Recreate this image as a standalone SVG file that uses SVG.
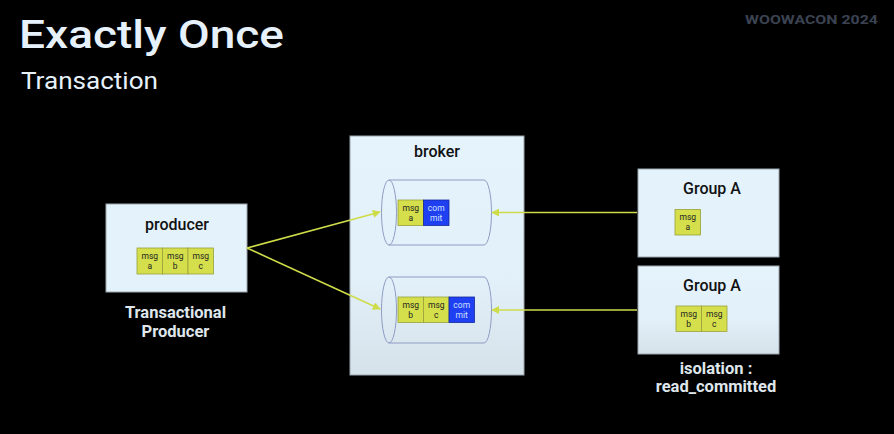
<svg xmlns="http://www.w3.org/2000/svg" width="894" height="434" viewBox="0 0 894 434">
<style>
.bg{fill:#000}
.box{fill:#e3f2fb;stroke:#9aa6ae;stroke-width:1}
.lbl{font-family:Roboto,"Liberation Sans",sans-serif;font-weight:500;font-size:16px;fill:#111;text-anchor:middle}
.cap{font-family:Roboto,"Liberation Sans",sans-serif;font-weight:700;font-size:16.5px;fill:#dfe6ec;text-anchor:middle}
.msg{fill:#d5df4c;stroke:#9aa13a;stroke-width:0.8}
.com{fill:#1f3ff2;stroke:#14289a;stroke-width:0.8}
.mt{font-family:Roboto,"Liberation Sans",sans-serif;font-size:8.5px;fill:#222;text-anchor:middle}
.ct{font-family:Roboto,"Liberation Sans",sans-serif;font-size:8.5px;fill:#cfe0ff;text-anchor:middle}
.cyl{fill:none;stroke:#8e9cc4;stroke-width:1}
.con{stroke:#cfdc4a;stroke-width:1.6;fill:none;marker-end:url(#ah)}
</style>
<defs>
<linearGradient id="bgr" x1="0" y1="0" x2="0" y2="1">
<stop offset="0" stop-color="#e5f3fc"/>
<stop offset="0.6" stop-color="#e2f0f9"/>
<stop offset="1" stop-color="#d6e2ea"/>
</linearGradient>
<marker id="ah" viewBox="0 0 10 10" refX="9" refY="5" markerWidth="5" markerHeight="5" orient="auto" markerUnits="strokeWidth">
<path d="M0,0 L10,5 L0,10 z" fill="#cfdc4a"/>
</marker>
</defs>
<rect class="bg" x="0" y="0" width="894" height="434"/>
<text x="19" y="48" font-family="Roboto,'Liberation Sans',sans-serif" font-weight="500" font-size="39" fill="#e6f1fb" textLength="265" lengthAdjust="spacingAndGlyphs">Exactly Once</text>
<text x="21" y="89" font-family="Roboto,'Liberation Sans',sans-serif" font-size="23.5" fill="#e6f1fb" textLength="137" lengthAdjust="spacingAndGlyphs">Transaction</text>
<text x="745" y="24" font-family="Roboto,'Liberation Sans',sans-serif" font-weight="700" font-size="13.5" fill="#3b4352" textLength="133" lengthAdjust="spacingAndGlyphs">WOOWACON 2024</text>

<g id="producer">
<rect class="box" x="106" y="204" width="141" height="88"/>
<text class="lbl" x="177" y="230">producer</text>
<rect class="msg" x="137" y="248" width="25.5" height="26"/>
<rect class="msg" x="162.5" y="248" width="25.5" height="26"/>
<rect class="msg" x="188" y="248" width="25.5" height="26"/>
<text class="mt" x="149.75" y="259">msg</text><text class="mt" x="149.75" y="269">a</text>
<text class="mt" x="175.25" y="259">msg</text><text class="mt" x="175.25" y="269">b</text>
<text class="mt" x="200.75" y="259">msg</text><text class="mt" x="200.75" y="269">c</text>
<text class="cap" x="175.5" y="318">Transactional</text>
<text class="cap" x="175.5" y="337">Producer</text>
</g>

<g id="broker">
<rect x="350" y="136" width="174" height="239" fill="url(#bgr)" stroke="#9aa6ae" stroke-width="1"/>
<text class="lbl" x="437" y="157">broker</text>
</g>

<g id="partition1">
<path class="cyl" d="M389,180 L484,180 A7.5,32.5 0 0 1 484,245 L389,245"/>
<ellipse class="cyl" cx="389" cy="212.5" rx="7.5" ry="32.5"/>
<rect class="msg" x="398" y="200" width="25.5" height="25.5"/>
<rect class="com" x="423.5" y="200" width="25.5" height="25.5"/>
<text class="mt" x="410.75" y="210.5">msg</text><text class="mt" x="410.75" y="220.5">a</text>
<text class="ct" x="436.25" y="210.5">com</text><text class="ct" x="436.25" y="220.5">mit</text>
</g>

<g id="partition2">
<path class="cyl" d="M389,277 L484,277 A7.5,33 0 0 1 484,343 L389,343"/>
<ellipse class="cyl" cx="389" cy="310" rx="7.5" ry="33"/>
<rect class="msg" x="398" y="297" width="25.5" height="25.5"/>
<rect class="msg" x="423.5" y="297" width="25.5" height="25.5"/>
<rect class="com" x="449" y="297" width="25.5" height="25.5"/>
<text class="mt" x="410.75" y="307.5">msg</text><text class="mt" x="410.75" y="317.5">b</text>
<text class="mt" x="436.25" y="307.5">msg</text><text class="mt" x="436.25" y="317.5">c</text>
<text class="ct" x="461.75" y="307.5">com</text><text class="ct" x="461.75" y="317.5">mit</text>
</g>

<g id="groupA1">
<rect class="box" x="638" y="169" width="141" height="88"/>
<text class="lbl" x="712" y="194">Group A</text>
<rect class="msg" x="675" y="209.5" width="25.5" height="25.5"/>
<text class="mt" x="687.75" y="220">msg</text><text class="mt" x="687.75" y="230">a</text>
</g>

<g id="groupA2">
<rect x="638" y="266" width="141" height="88" fill="url(#bgr)" stroke="#9aa6ae" stroke-width="1"/>
<text class="lbl" x="712" y="291">Group A</text>
<rect class="msg" x="676" y="306" width="25.5" height="25.5"/>
<rect class="msg" x="701.5" y="306" width="25.5" height="25.5"/>
<text class="mt" x="688.75" y="316.5">msg</text><text class="mt" x="688.75" y="326.5">b</text>
<text class="mt" x="714.25" y="316.5">msg</text><text class="mt" x="714.25" y="326.5">c</text>
<text class="cap" x="716" y="374">isolation :</text>
<text class="cap" x="716" y="392">read_committed</text>
</g>

<g id="connectors">
<line class="con" x1="247" y1="248" x2="380" y2="212"/>
<line class="con" x1="247" y1="248" x2="380" y2="309"/>
<line class="con" x1="637" y1="212.5" x2="492" y2="212.5"/>
<line class="con" x1="637" y1="310" x2="492" y2="310"/>
</g>
</svg>
